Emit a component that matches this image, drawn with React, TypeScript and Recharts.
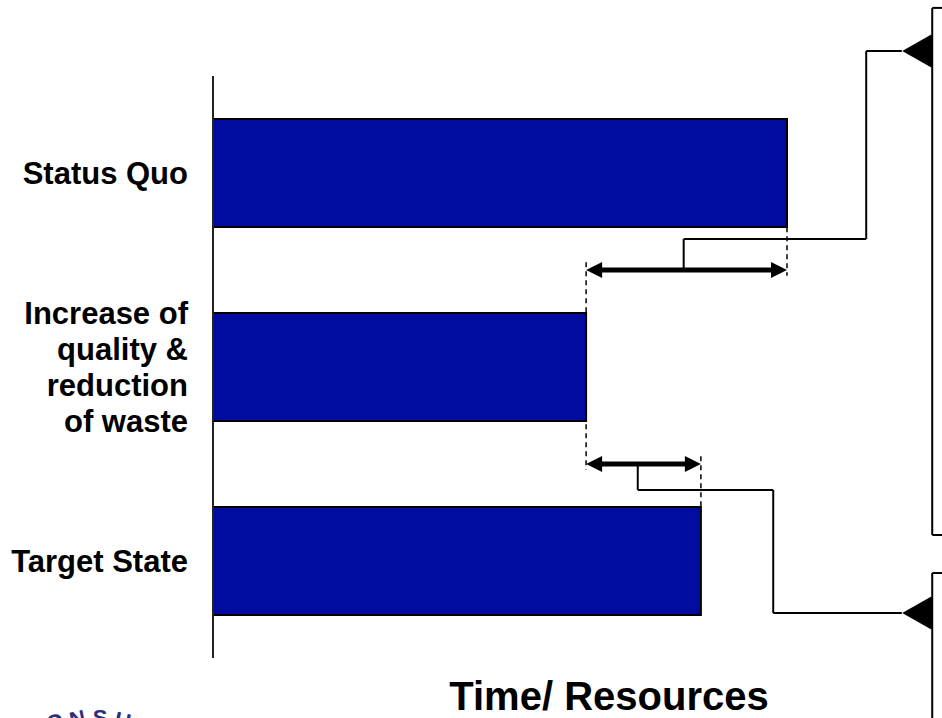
import React from 'react';
import { ComposedChart, Bar, XAxis, YAxis, ReferenceLine, ReferenceDot } from 'recharts';

// bar data
const categories = ['Status Quo', 'Increase of\nquality &\nreduction\nof waste', 'Target State'];
const values = [100, 65, 85];

const data = categories.map((name, i) => ({ name, value: values[i] }));

// annotation geometry, x in value units, y in band units (0 = top of first band, 1 band per category)
const gapArrows = [
  { from: values[1], to: values[0], y: 1.0 },
  { from: values[1], to: values[2], y: 2.0 },
];
const dashedGuides = [
  { x: values[0], y1: 0.78, y2: 1.03 },
  { x: values[1], y1: 0.96, y2: 2.03 },
  { x: values[2], y1: 1.96, y2: 2.22 },
];
const connectors = [
  [[82, 1.0], [82, 0.84], [113.8, 0.84], [113.8, -0.129], [120, -0.129]],
  [[74, 2.0], [74, 2.134], [97.6, 2.134], [97.6, 2.768], [120, 2.768]],
];
const boxEdges = [
  [[127, -0.351], [125.3, -0.351], [125.3, 2.366], [127, 2.366]],
  [[127, 2.562], [125.3, 2.562], [125.3, 3.4]],
];
const pointers = [
  { x: 125.3, y: -0.129 },
  { x: 125.3, y: 2.768 },
];

const FONT = '"Liberation Sans", Arial, sans-serif';
const MARGIN = { top: 76, right: 155, bottom: 60, left: 213 };

function CategoryTick(props: any) {
  const { x, y, payload } = props;
  const lines = String(payload.value).split('\n');
  const lh = 36;
  return (
    <text x={x} y={y} textAnchor="end" fontFamily={FONT} fontWeight="bold" fontSize={31} fill="#000">
      {lines.map((l, i) => (
        <tspan key={i} x={x} y={y + 11 + (i - (lines.length - 1) / 2) * lh}>
          {l}
        </tspan>
      ))}
    </text>
  );
}

function DoubleArrow(props: any) {
  const { x1, y1, x2, y2 } = props;
  const head = 16;
  const half = 8;
  const left = Math.min(x1, x2);
  const right = Math.max(x1, x2);
  const y = (y1 + y2) / 2;
  return (
    <g>
      <line x1={left + head - 2} y1={y} x2={right - head + 2} y2={y} stroke="#000" strokeWidth={5} />
      <polygon points={`${left},${y} ${left + head},${y - half} ${left + head},${y + half}`} fill="#000" />
      <polygon points={`${right},${y} ${right - head},${y - half} ${right - head},${y + half}`} fill="#000" />
    </g>
  );
}

function Pointer(props: any) {
  const { cx, cy } = props;
  return <polygon points={`${cx},${cy - 17} ${cx},${cy + 17} ${cx - 30},${cy}`} fill="#000" />;
}

function segmentsOf(points: number[][], key: string, width: number) {
  const out: any[] = [];
  for (let i = 0; i < points.length - 1; i++) {
    out.push(
      <ReferenceLine
        key={`${key}-${i}`}
        ifOverflow="visible"
        segment={[
          { x: points[i][0], y: points[i][1] },
          { x: points[i + 1][0], y: points[i + 1][1] },
        ]}
        stroke="#000"
        strokeWidth={width}
      />
    );
  }
  return out;
}

export default function App() {
  return (
    <div style={{ position: 'absolute', left: 0, top: 0, width: 942, height: 718, background: '#fff', overflow: 'hidden' }}>
      <div style={{ position: 'absolute', left: 0, top: 0 }}>
        <ComposedChart
          width={942}
          height={718}
          data={data}
          layout="vertical"
          margin={{ ...MARGIN, left: 0 }}
        >
          <XAxis type="number" domain={[0, 100]} hide />
          <YAxis
            type="category"
            dataKey="name"
            width={213}
            tickSize={0}
            tickMargin={25}
            tickLine={false}
            axisLine={{ stroke: '#222', strokeWidth: 2 }}
            tick={<CategoryTick />}
            interval={0}
          />
          <Bar
            dataKey="value"
            barSize={108}
            fill="#000C9F"
            stroke="#000"
            strokeWidth={2}
            isAnimationActive={false}
          />
        </ComposedChart>
      </div>
      {/* annotation layer: same plot area, numeric band scale on y */}
      <div style={{ position: 'absolute', left: 0, top: 0, pointerEvents: 'none' }}>
        <ComposedChart width={942} height={718} data={data} margin={MARGIN}>
          <XAxis type="number" dataKey="value" domain={[0, 100]} allowDataOverflow hide height={0} />
          <YAxis type="number" domain={[0, 3]} reversed allowDataOverflow hide width={0} />
          {dashedGuides.map((d, i) => (
            <ReferenceLine
              key={`dash-${i}`}
              ifOverflow="visible"
              segment={[{ x: d.x, y: d.y1 }, { x: d.x, y: d.y2 }]}
              stroke="#000"
              strokeWidth={1.5}
              strokeDasharray="5 4"
            />
          ))}
          {connectors.flatMap((c, i) => segmentsOf(c, `con-${i}`, 2))}
          {boxEdges.flatMap((c, i) => segmentsOf(c, `box-${i}`, 2))}
          {gapArrows.map((a, i) => (
            <ReferenceLine
              key={`arrow-${i}`}
              ifOverflow="visible"
              segment={[{ x: a.from, y: a.y }, { x: a.to, y: a.y }]}
              shape={<DoubleArrow />}
            />
          ))}
          {pointers.map((p, i) => (
            <ReferenceDot key={`ptr-${i}`} x={p.x} y={p.y} ifOverflow="visible" shape={<Pointer />} />
          ))}
        </ComposedChart>
      </div>
      <svg width={942} height={718} style={{ position: 'absolute', left: 0, top: 0, pointerEvents: 'none' }}>
        <text x={609} y={710} textAnchor="middle" fontFamily={FONT} fontWeight="bold" fontSize={40} fill="#000">
          Time/ Resources
        </text>
        <g fontFamily={FONT} fontWeight="bold" fontSize={22} fill="#2A2E7E" textAnchor="middle">
          <text transform="translate(58,729) rotate(-24)">O</text>
          <text transform="translate(79,726) rotate(-12)">N</text>
          <text transform="translate(100,725) rotate(0)">S</text>
          <text transform="translate(121,728) rotate(13)">U</text>
        </g>
      </svg>
    </div>
  );
}
